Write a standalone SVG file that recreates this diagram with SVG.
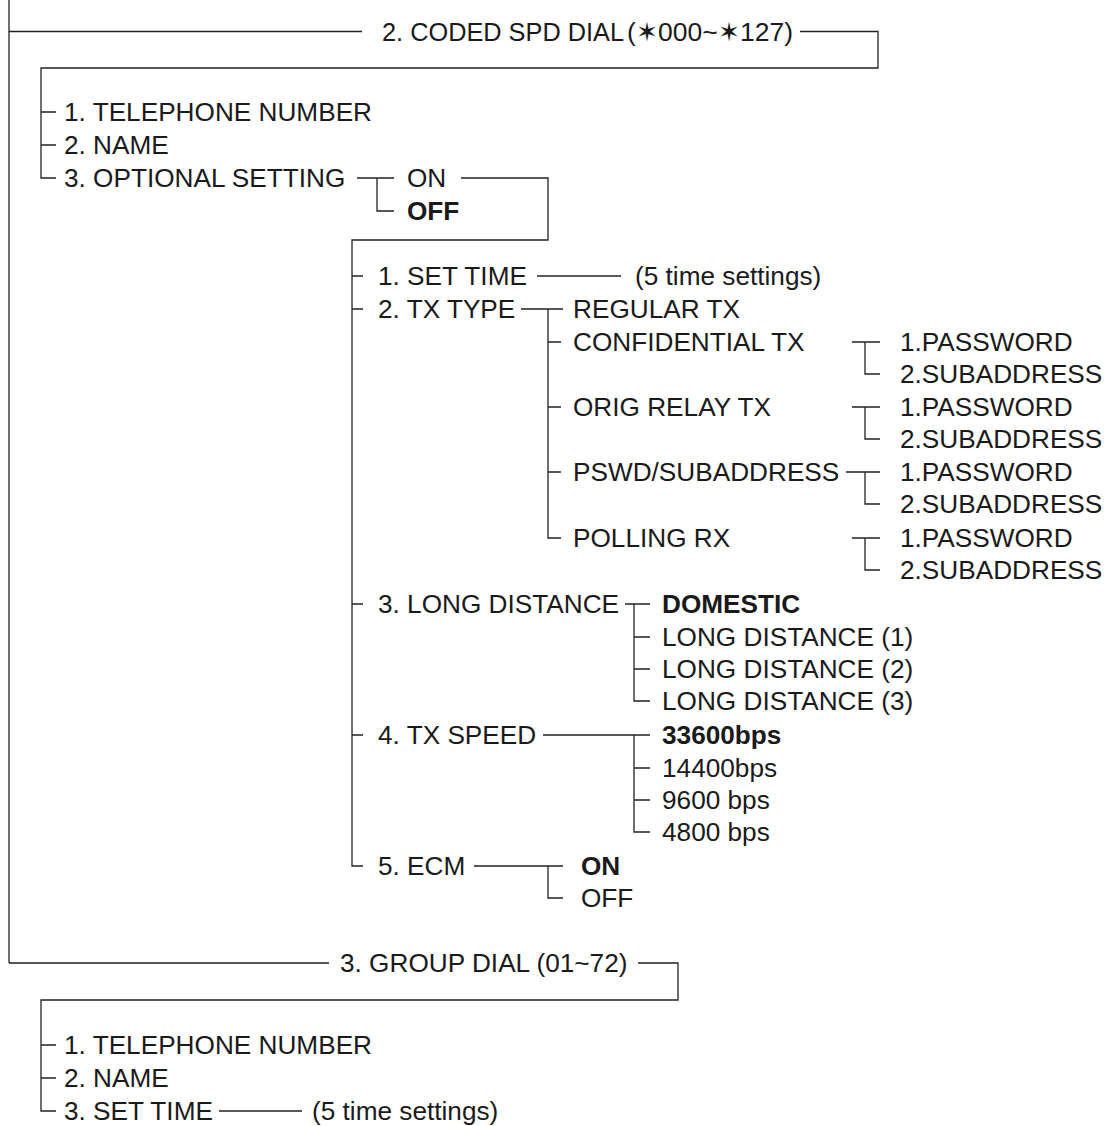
<svg xmlns="http://www.w3.org/2000/svg" width="1105" height="1126" viewBox="0 0 1105 1126">
<style>
text{font-family:"Liberation Sans",Arial,sans-serif;font-size:26.2px;fill:#1a1a1a}
.b{font-weight:bold}
.c path{stroke:#222;stroke-width:1.3;fill:none}
</style>
<rect width="1105" height="1126" fill="#fff"/>
<g class="c" id="connectors">
<path d="M9 0V963"/>
<path d="M9 31.5H362M800 31.5H878V68H41V178H56M41 112H56M41 145H56"/>
<path d="M357 178H394M377 178V211H394M461 178H548V240H352V866H363M352 276H363M352 309H363M352 604H363M352 735H363"/>
<path d="M537 276H621"/>
<path d="M521 309H563M548 309V538H561M548 342H561M548 407H561M548 472H561"/>
<path d="M852 342H880M865 342V374H880"/>
<path d="M852 407H880M865 407V439H880"/>
<path d="M846 472H880M865 472V504H880"/>
<path d="M852 538H880M865 538V570H880"/>
<path d="M625 604H650M634 604V701H650M634 637H650M634 669H650"/>
<path d="M543 735H650M634 735V832H650M634 768H650M634 800H650"/>
<path d="M474 866H563M548 866V898H563"/>
<path d="M9 963H329M638 963H678V1000H41V1111H56M41 1045H56M41 1078H56"/>
<path d="M219 1111H302"/>
</g>
<g id="n-coded"><text x="382" y="40.9" textLength="242" lengthAdjust="spacingAndGlyphs">2. CODED SPD DIAL</text><text x="627" y="40.9" textLength="166" lengthAdjust="spacingAndGlyphs">(✶000~✶127)</text></g>
<g id="n-tel1"><text x="64" y="121.4">1. TELEPHONE NUMBER</text></g>
<g id="n-name1"><text x="64" y="154.4">2. NAME</text></g>
<g id="n-opt"><text x="64" y="187.4">3. OPTIONAL SETTING</text></g>
<g id="n-on"><text x="407" y="187.4">ON</text></g>
<g id="n-off"><text x="407" y="220.4" class="b">OFF</text></g>
<g id="n-settime"><text x="378" y="285.4">1. SET TIME</text></g>
<g id="n-5time"><text x="635" y="285.4">(5 time settings)</text></g>
<g id="n-txtype"><text x="378" y="318.4">2. TX TYPE</text></g>
<g id="n-regular"><text x="573" y="318.4">REGULAR TX</text></g>
<g id="n-conf"><text x="573" y="351.4">CONFIDENTIAL TX</text></g>
<g id="n-orig"><text x="573" y="416.4">ORIG RELAY TX</text></g>
<g id="n-pswd"><text x="573" y="481.4">PSWD/SUBADDRESS</text></g>
<g id="n-poll"><text x="573" y="547.4">POLLING RX</text></g>
<g id="n-p1"><text x="900" y="351.4">1.PASSWORD</text><text x="900" y="383.4">2.SUBADDRESS</text></g>
<g id="n-p2"><text x="900" y="416.4">1.PASSWORD</text><text x="900" y="448.4">2.SUBADDRESS</text></g>
<g id="n-p3"><text x="900" y="481.4">1.PASSWORD</text><text x="900" y="513.4">2.SUBADDRESS</text></g>
<g id="n-p4"><text x="900" y="547.4">1.PASSWORD</text><text x="900" y="579.4">2.SUBADDRESS</text></g>
<g id="n-long"><text x="378" y="613.4">3. LONG DISTANCE</text></g>
<g id="n-dom"><text x="662" y="613.4" class="b">DOMESTIC</text></g>
<g id="n-ld1"><text x="662" y="646.4">LONG DISTANCE (1)</text></g>
<g id="n-ld2"><text x="662" y="678.4">LONG DISTANCE (2)</text></g>
<g id="n-ld3"><text x="662" y="710.4">LONG DISTANCE (3)</text></g>
<g id="n-speed"><text x="378" y="744.4">4. TX SPEED</text></g>
<g id="n-s1"><text x="662" y="744.4" class="b">33600bps</text></g>
<g id="n-s2"><text x="662" y="777.4">14400bps</text></g>
<g id="n-s3"><text x="662" y="809.4">9600 bps</text></g>
<g id="n-s4"><text x="662" y="841.4">4800 bps</text></g>
<g id="n-ecm"><text x="378" y="875.4">5. ECM</text></g>
<g id="n-ecmon"><text x="581" y="875.4" class="b">ON</text></g>
<g id="n-ecmoff"><text x="581" y="907.4">OFF</text></g>
<g id="n-group"><text x="340" y="972.4">3. GROUP DIAL (01~72)</text></g>
<g id="n-tel2"><text x="64" y="1054.4">1. TELEPHONE NUMBER</text></g>
<g id="n-name2"><text x="64" y="1087.4">2. NAME</text></g>
<g id="n-settime2"><text x="64" y="1120.4">3. SET TIME</text></g>
<g id="n-5time2"><text x="312" y="1120.4">(5 time settings)</text></g>
</svg>
